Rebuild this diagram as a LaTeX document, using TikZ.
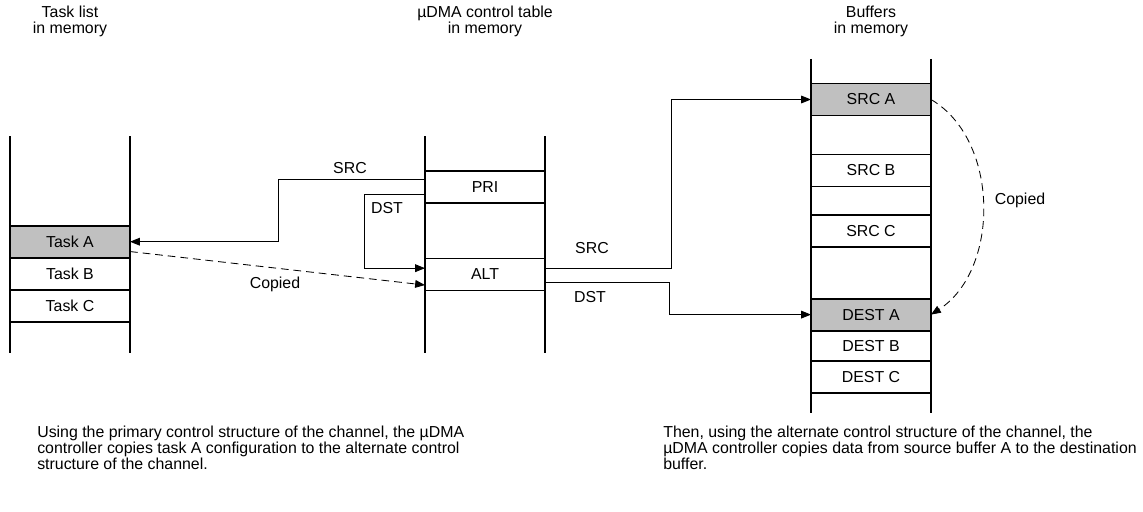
\documentclass[tikz,border=0pt]{standalone}
\usepackage{fontspec}
\setmainfont{Liberation Sans}
\usetikzlibrary{arrows.meta, positioning}
\definecolor{cellgray}{HTML}{C0C0C0}
\tikzset{
  cell/.style={rectangle,draw,line width=1.4pt,outer sep=0pt,align=center,minimum width=3cm,minimum height=0.8cm,inner sep=0pt},
  wall/.style={line width=1.4pt},
  line/.style={line width=0.6pt,-{Triangle[length=7pt,width=5.5pt]}},
  copyline/.style={line,dash pattern=on 5.5pt off 3.5pt},
  lbl/.style={inner sep=0pt}
}

\begin{document}
\begin{tikzpicture}[x=0.025cm,y=-0.025cm,node distance=0pt,font=\fontsize{11.3}{11.4}\selectfont]
\useasboundingbox (0,0) rectangle (1143,512);
% headings
\node[lbl, align=center] (htask) at (70,21) {Task list\\in memory};
\node[lbl, align=center] (hctl) at (485,21) {µDMA control table\\in memory};
\node[lbl, align=center] (hbuf) at (871,21) {Buffers\\in memory};
% memory columns
\foreach \x in {10,130,425,545}
  \draw[wall] (\x,136) -- (\x,353);
\foreach \x in {811,931}
  \draw[wall] (\x,59) -- (\x,413);
% task list
\node[cell, fill=cellgray] (taska) at (70,241.7) {Task A};
\node[cell, below=of taska] (taskb) {Task B};
\node[cell, below=of taskb] (taskc) {Task C};
% control table
\node[cell] (pri) at (485,187) {PRI};
\node[cell] (alt) at (485,274.5) {ALT};
% buffers
\node[cell, fill=cellgray] (srca) at (871,99.5) {SRC A};
\node[cell] (srcb) at (871,170.5) {SRC B};
\node[cell] (srcc) at (871,231) {SRC C};
\node[cell, fill=cellgray] (desta) at (871,314.6) {DEST A};
\node[cell, below=of desta, minimum height=0.75cm] (destb) {DEST B};
\node[cell, below=of destb] (destc) {DEST C};
% connectors
\draw[line] ([yshift=5.5pt]pri.west) -- ++(-147,0) |- (taska.east);
\draw[line] ([yshift=-5pt]pri.west) -- ++(-61,0) |- ([yshift=4.5pt]alt.west);
\draw[copyline] ([yshift=-7pt]taska.east) -- ([yshift=-7.5pt]alt.west);
\draw[line] ([yshift=4pt]alt.east) -- ++(126,0) |- (srca.west);
\draw[line] ([yshift=-5.5pt]alt.east) -- ++(124,0) |- (desta.west);
\draw[copyline] (srca.east) .. controls (1000,140) and (1000,270) .. (desta.east);
% labels
\node[lbl] (lsrc) at (350,168) {SRC};
\node[lbl] (ldst) at (387,208) {DST};
\node[lbl] (lcopy) at (275,284) {Copied};
\node[lbl] (rsrc) at (592,248) {SRC};
\node[lbl] (rdst) at (590,297) {DST};
\node[lbl] (rcopy) at (1020,200) {Copied};
% notes
\node[lbl, anchor=north west, align=left] (noteleft) at (37,426)
  {Using the primary control structure of the channel, the µDMA\\controller copies task A configuration to the alternate control\\structure of the channel.};
\node[lbl, anchor=north west, align=left] (noteright) at (663,426)
  {Then, using the alternate control structure of the channel, the\\µDMA controller copies data from source buffer A to the destination\\buffer.};
\end{tikzpicture}
\end{document}
